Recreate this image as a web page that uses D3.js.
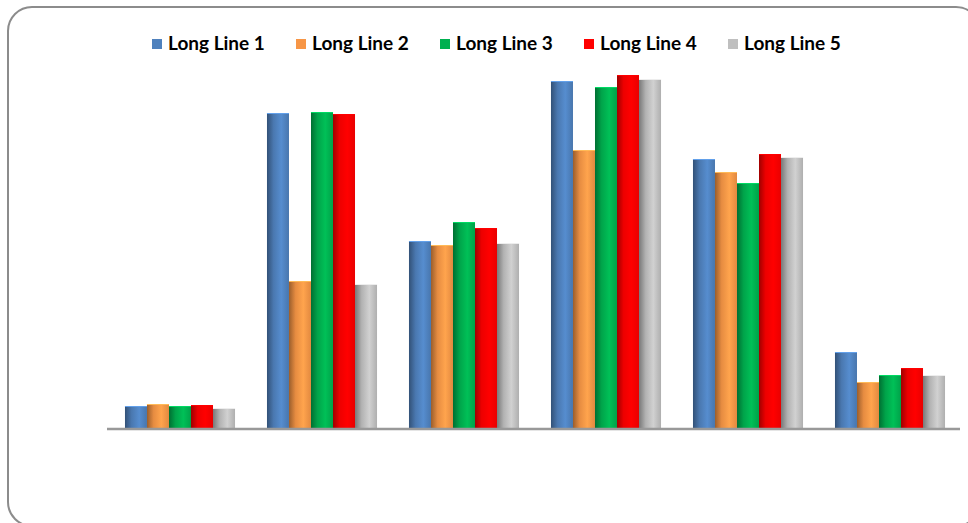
<!DOCTYPE html>
<html>
<head>
<meta charset="utf-8">
<script src="https://cdn.jsdelivr.net/npm/d3@7"></script>
<style>
  body { margin: 0; background: #fff; }
  svg { display: block; }
</style>
</head>
<body>
<div id="chart"></div>
<script>
// chart data
const groups = ["G1", "G2", "G3", "G4", "G5", "G6"];
const seriesNames = ["Long Line 1", "Long Line 2", "Long Line 3", "Long Line 4", "Long Line 5"];
const line1 = [22, 315, 187, 347, 269, 76];
const line2 = [24, 147, 183, 278, 256, 46];
const line3 = [22, 316, 206, 341, 245, 53];
const line4 = [23, 314, 200, 353, 274, 60];
const line5 = [20, 144, 185, 349, 271, 53];
const seriesValues = [line1, line2, line3, line4, line5];
const colors = ["#4f81bd", "#f79646", "#00b050", "#ff0000", "#bfbfbf"];

const width = 968, height = 523;

const svg = d3.select("#chart")
  .append("svg")
    .attr("width", width)
    .attr("height", height);

// gradients to give the bars a rounded look
const defs = svg.append("defs");
colors.forEach(function(c, i) {
  const g = defs.append("linearGradient")
      .attr("id", "grad" + i)
      .attr("x1", "0%").attr("x2", "100%")
      .attr("y1", "0%").attr("y2", "0%");
  g.append("stop").attr("offset", "0%").attr("stop-color", d3.color(c).darker(1.3));
  g.append("stop").attr("offset", "30%").attr("stop-color", d3.color(c).darker(0.2));
  g.append("stop").attr("offset", "65%").attr("stop-color", d3.color(c).brighter(0.25));
  g.append("stop").attr("offset", "100%").attr("stop-color", d3.color(c).darker(0.25));
});

// chart frame
svg.append("rect")
  .attr("x", 8)
  .attr("y", 7)
  .attr("width", 972)
  .attr("height", 519)
  .attr("rx", 24)
  .attr("fill", "#fff")
  .attr("stroke", "#8c8c8c")
  .attr("stroke-width", 2);

// scales
const x0 = d3.scaleBand()
  .domain(groups)
  .range([109, 961])
  .paddingInner(0.225)
  .paddingOuter(0.1125);

const x1 = d3.scaleBand()
  .domain(d3.range(seriesNames.length))
  .range([0, x0.bandwidth()]);

const y = d3.scaleLinear()
  .domain([0, 400])
  .range([428, 28]);

// bars
const groupG = svg.append("g")
  .selectAll("g")
  .data(groups)
  .join("g")
    .attr("transform", d => `translate(${x0(d)},0)`);

groupG.selectAll("rect")
  .data((d, gi) => seriesValues.map((vals, si) => ({ si: si, v: vals[gi] })))
  .join("rect")
    .attr("x", d => x1(d.si))
    .attr("y", d => y(d.v))
    .attr("width", x1.bandwidth())
    .attr("height", d => y(0) - y(d.v))
    .attr("fill", d => `url(#grad${d.si})`);

// light rim on bar tops
groupG.selectAll("line.rim")
  .data((d, gi) => seriesValues.map((vals, si) => ({ si: si, v: vals[gi] })))
  .join("line")
    .attr("class", "rim")
    .attr("x1", d => x1(d.si))
    .attr("x2", d => x1(d.si) + x1.bandwidth())
    .attr("y1", d => y(d.v) + 0.5)
    .attr("y2", d => y(d.v) + 0.5)
    .attr("stroke", d => d3.color(colors[d.si]).brighter(0.6))
    .attr("stroke-width", 1);

// baseline
svg.append("line")
  .attr("x1", 107)
  .attr("x2", 960)
  .attr("y1", y(0) + 1)
  .attr("y2", y(0) + 1)
  .attr("stroke", "#999")
  .attr("stroke-width", 2.5);

// legend
const legendX = d3.scaleLinear()
  .domain([0, seriesNames.length - 1])
  .range([152, 728]);

const legend = svg.append("g")
  .selectAll("g")
  .data(seriesNames)
  .join("g")
    .attr("transform", (d, i) => `translate(${legendX(i)},39)`);

legend.append("rect")
  .attr("width", 10)
  .attr("height", 10)
  .attr("fill", (d, i) => colors[i]);

legend.append("text")
  .attr("x", 16)
  .attr("y", 11)
  .attr("font-family", "Lato, 'Open Sans', sans-serif")
  .attr("font-weight", "bold")
  .attr("font-size", "19px")
  .attr("fill", "#000")
  .text(d => d);
</script>
</body>
</html>
